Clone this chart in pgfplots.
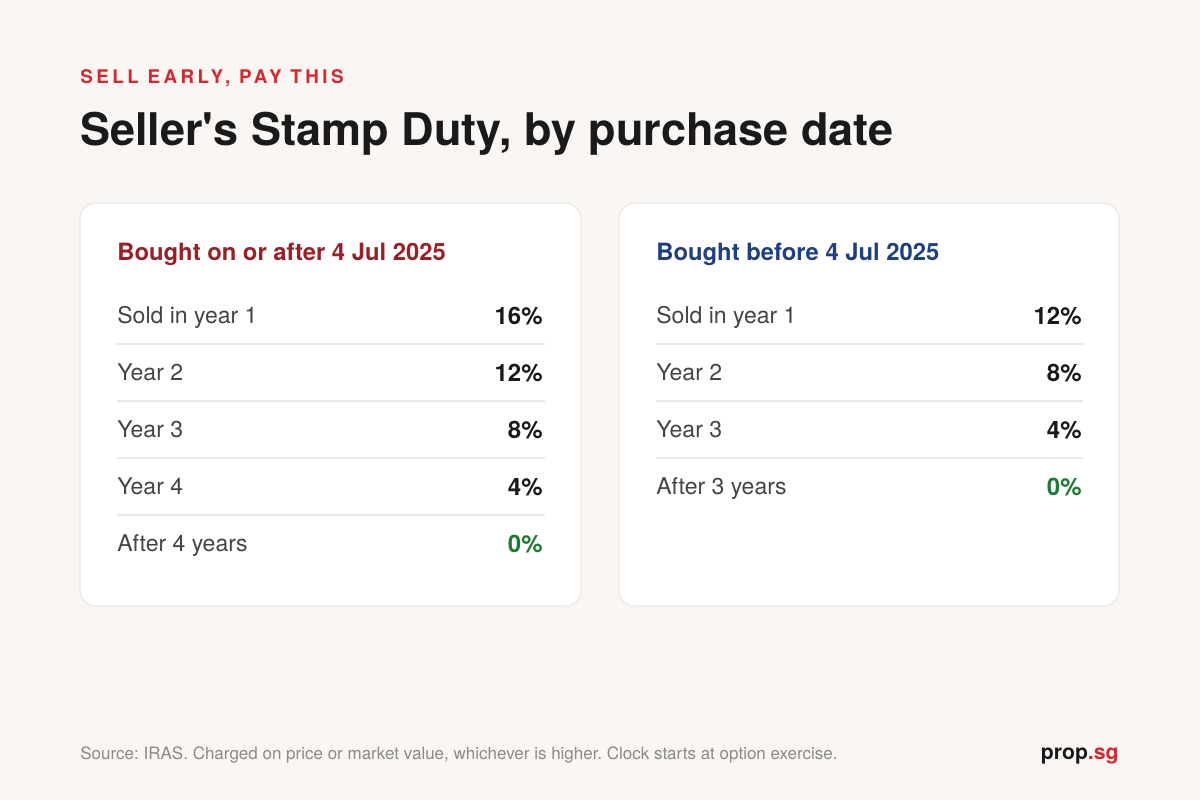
\documentclass[border=0pt]{standalone}
\usepackage{pgfplots}
\pgfplotsset{compat=1.18}
\usepackage{fontspec}
\setmainfont{TeX Gyre Heros}
\frenchspacing
\definecolor{bg}{HTML}{F9F6F3}
\definecolor{cardline}{HTML}{ECE8E4}
\definecolor{kicker}{HTML}{D7262E}
\definecolor{titlec}{HTML}{1A1A1A}
\definecolor{headred}{HTML}{9B1F24}
\definecolor{headblue}{HTML}{1F3F83}
\definecolor{labelc}{HTML}{444444}
\definecolor{valc}{HTML}{1A1A1A}
\definecolor{greenc}{HTML}{1E7B34}
\definecolor{sep}{HTML}{E8E8E8}
\definecolor{footc}{HTML}{8A8A8A}
\begin{document}
\begin{tikzpicture}
\begin{axis}[
  at={(0,0)}, anchor=south west,
  scale only axis, width=600pt, height=400pt,
  xmin=0, xmax=1200, ymin=0, ymax=800, y dir=reverse,
  hide axis, clip=false,
  point meta=explicit,
  /pgf/number format/assume math mode=true,
  nodes near coords={\pgfmathprintnumber{\pgfplotspointmeta}\%},
  every node near coord/.style={anchor=base east, inner sep=0pt, font=\fontsize{12pt}{14pt}\bfseries},
]
% background and cards
\fill[bg] (axis cs:0,0) rectangle (axis cs:1200,800);
\draw[fill=white, draw=cardline, line width=0.6pt, rounded corners=8pt] (axis cs:80,203) rectangle (axis cs:581,606);
\draw[fill=white, draw=cardline, line width=0.6pt, rounded corners=8pt] (axis cs:619,203) rectangle (axis cs:1119,606);
% titles
\node[anchor=base west, inner sep=0pt, text=kicker, font=\fontsize{9.4pt}{11pt}\bfseries\addfontfeature{LetterSpace=18.5}] at (axis cs:80,83) {SELL EARLY, PAY THIS};
\node[anchor=base west, inner sep=0pt, text=titlec, font=\fontsize{22.5pt}{27pt}\bfseries] at (axis cs:80,145) {Seller\textquotesingle s Stamp Duty, by purchase date};
% card headings
\node[anchor=base west, inner sep=0pt, text=headred, font=\fontsize{11.9pt}{14pt}\bfseries] at (axis cs:117,260) {Bought on or after 4 Jul 2025};
\node[anchor=base west, inner sep=0pt, text=headblue, font=\fontsize{11.9pt}{14pt}\bfseries] at (axis cs:656,260) {Bought before 4 Jul 2025};
% separators
\foreach \yy in {344,401,458,515} {
  \edef\tmp{\noexpand\draw[sep, line width=0.6pt] (axis cs:117,\yy) -- (axis cs:545,\yy);}\tmp
}
\foreach \yy in {344,401,458} {
  \edef\tmp{\noexpand\draw[sep, line width=0.6pt] (axis cs:656,\yy) -- (axis cs:1083,\yy);}\tmp
}
% row labels
\begin{scope}[every node/.style={anchor=base west, inner sep=0pt, text=labelc, font=\fontsize{11.5pt}{13pt}\selectfont}]
\node at (axis cs:117,323) {Sold in year 1};
\node at (axis cs:117,380) {Year 2};
\node at (axis cs:117,437) {Year 3};
\node at (axis cs:117,494) {Year 4};
\node at (axis cs:117,551) {After 4 years};
\node at (axis cs:656,323) {Sold in year 1};
\node at (axis cs:656,380) {Year 2};
\node at (axis cs:656,437) {Year 3};
\node at (axis cs:656,494) {After 3 years};
\end{scope}
% values
\addplot[draw=none, mark=none, nodes near coords style={text=valc}] coordinates {
  (543,324) [16]
  (543,381) [12]
  (543,438) [8]
  (543,495) [4]
};
\addplot[draw=none, mark=none, nodes near coords style={text=greenc}] coordinates {
  (543,552) [0]
};
\addplot[draw=none, mark=none, nodes near coords style={text=valc}] coordinates {
  (1082,324) [12]
  (1082,381) [8]
  (1082,438) [4]
};
\addplot[draw=none, mark=none, nodes near coords style={text=greenc}] coordinates {
  (1082,495) [0]
};
% footer
\node[anchor=base west, inner sep=0pt, text=footc, font=\fontsize{8.5pt}{10pt}\selectfont] at (axis cs:80,759) {Source: IRAS. Charged on price or market value, whichever is higher. Clock starts at option exercise.};
\node[anchor=base east, inner sep=0pt, font=\fontsize{10.6pt}{12pt}\bfseries] at (axis cs:1119,759) {\textcolor{titlec}{prop}\textcolor{kicker}{.sg}};
\end{axis}
\end{tikzpicture}
\end{document}
